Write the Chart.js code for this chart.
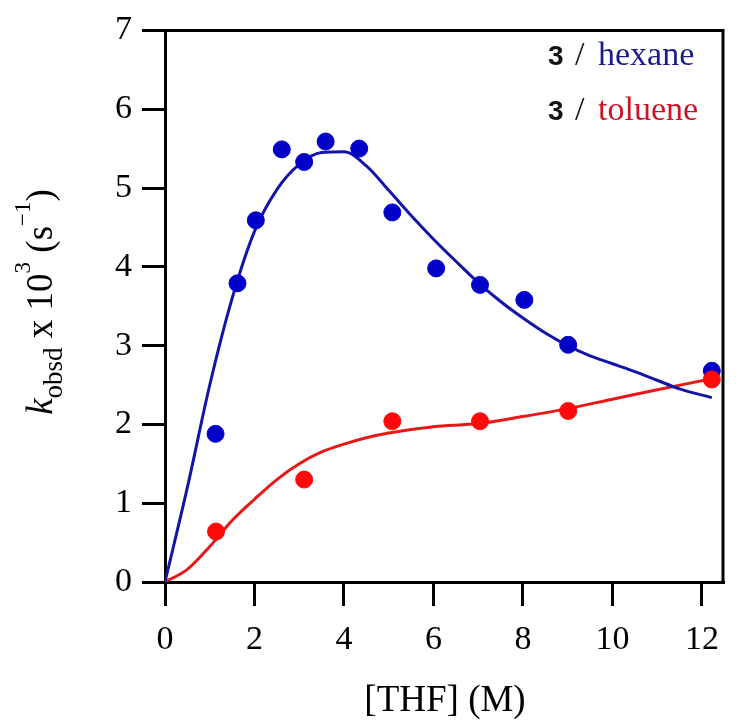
<!DOCTYPE html>
<html>
<head>
<meta charset="utf-8">
<script src="https://cdn.jsdelivr.net/npm/chart.js@4.4.0/dist/chart.umd.min.js"></script>
<style>
	body { margin: 0; background: #fff; }
</style>
</head>
<body>
<canvas id="kobsdChart" width="745" height="728"></canvas>
<script>
// measured points, 3 / hexane
var hexaneThf = [1.13, 1.62, 2.03, 2.61, 3.11, 3.59, 4.34, 5.08, 6.06, 7.04, 8.03, 9.01, 12.22];
var hexaneK = [1.88, 3.79, 4.59, 5.49, 5.33, 5.59, 5.50, 4.69, 3.98, 3.77, 3.58, 3.01, 2.68];

// measured points, 3 / toluene
var tolueneThf = [1.14, 3.11, 5.08, 7.04, 9.01, 12.22];
var tolueneK = [0.64, 1.30, 2.04, 2.04, 2.17, 2.57];

// fitted curves
var hexaneFitThf = [0, 0.5, 1, 1.5, 2, 2.5, 3, 3.5, 4, 4.5, 5, 5.5, 6, 6.5, 7, 7.5, 8, 8.5, 9, 9.5, 10, 10.5, 11, 11.5, 12.22];
var hexaneFitK = [0, 1.2, 2.5, 3.6, 4.45, 4.98, 5.3, 5.45, 5.46, 5.28, 4.97, 4.65, 4.35, 4.07, 3.8, 3.56, 3.35, 3.16, 3.0, 2.87, 2.77, 2.67, 2.56, 2.45, 2.34];
var tolueneFitThf = [0, 0.5, 1, 1.5, 2, 2.5, 3, 3.5, 4, 4.5, 5, 6, 7, 8, 9, 10, 11, 12.22];
var tolueneFitK = [0, 0.16, 0.45, 0.78, 1.05, 1.3, 1.5, 1.65, 1.75, 1.83, 1.89, 1.97, 2.01, 2.1, 2.2, 2.32, 2.44, 2.58];

var xTicks = [0, 2, 4, 6, 8, 10, 12];
var yTicks = [0, 1, 2, 3, 4, 5, 6, 7];

var serif = '"Liberation Serif", "Times New Roman", serif';

function toXY(xs, ys) {
	var pts = [];
	for (var i = 0; i < xs.length; i++) {
		pts.push({ x: xs[i], y: ys[i] });
	}
	return pts;
}

// frame, axis titles and the little legend in the corner
var decorations = {
	id: 'decorations',
	afterDraw: function (chart) {
		var ctx = chart.ctx;
		var a = chart.chartArea;
		ctx.save();

		ctx.strokeStyle = '#000';
		ctx.lineWidth = 3;
		ctx.beginPath();
		ctx.moveTo(a.left - 1.5, a.top);
		ctx.lineTo(a.right, a.top);
		ctx.lineTo(a.right, a.bottom + 1.5);
		ctx.stroke();

		// x title
		ctx.fillStyle = '#000';
		ctx.font = '37px ' + serif;
		ctx.textAlign = 'center';
		ctx.textBaseline = 'alphabetic';
		ctx.fillText('[THF] (M)', 445, 711);

		// y title with sub/superscripts
		var parts = [
			{ t: 'k', f: 'italic 37px ' + serif, dy: 0 },
			{ t: 'obsd', f: '27px ' + serif, dy: 10 },
			{ t: ' x 10', f: '37px ' + serif, dy: 0 },
			{ t: '3', f: '23px ' + serif, dy: -22 },
			{ t: ' (s', f: '37px ' + serif, dy: 0 },
			{ t: '\u22121', f: '23px ' + serif, dy: -22 },
			{ t: ')', f: '37px ' + serif, dy: 0 }
		];
		var total = 0;
		parts.forEach(p => {
			ctx.font = p.f;
			p.w = ctx.measureText(p.t).width;
			total += p.w;
		});
		ctx.translate(52, 302);
		ctx.rotate(-Math.PI / 2);
		ctx.textAlign = 'left';
		var pos = -total / 2;
		parts.forEach(p => {
			ctx.font = p.f;
			ctx.fillText(p.t, pos, p.dy);
			pos += p.w;
		});
		ctx.setTransform(1, 0, 0, 1, 0, 0);

		// legend text
		var rows = [
			{ word: 'hexane', color: '#1c1c8e', y: 65 },
			{ word: 'toluene', color: '#cc1426', y: 120 }
		];
		rows.forEach(r => {
			ctx.fillStyle = '#111';
			ctx.font = 'bold 28px "Liberation Sans", sans-serif';
			ctx.fillText('3', 548, r.y);
			ctx.font = '34px ' + serif;
			ctx.fillText('/', 575, r.y);
			ctx.fillStyle = r.color;
			ctx.fillText(r.word, 598, r.y);
		});
		ctx.restore();
	}
};

var config = {
	type: 'scatter',
	data: {
		datasets: [
			{
				label: 'toluene',
				data: toXY(tolueneThf, tolueneK),
				backgroundColor: '#ff0a0a',
				borderColor: '#ff0a0a',
				pointRadius: 8.5,
				order: 0
			},
			{
				label: 'hexane',
				data: toXY(hexaneThf, hexaneK),
				backgroundColor: '#0000c8',
				borderColor: '#0000c8',
				pointRadius: 8.5,
				order: 1
			},
			{
				type: 'line',
				label: 'hexane fit',
				data: toXY(hexaneFitThf, hexaneFitK),
				borderColor: '#1414a8',
				borderWidth: 3,
				pointRadius: 0,
				cubicInterpolationMode: 'monotone',
				fill: false,
				order: 2
			},
			{
				type: 'line',
				label: 'toluene fit',
				data: toXY(tolueneFitThf, tolueneFitK),
				borderColor: '#e81818',
				borderWidth: 3,
				pointRadius: 0,
				cubicInterpolationMode: 'monotone',
				fill: false,
				order: 2
			}
		]
	},
	options: {
		responsive: false,
		animation: false,
		devicePixelRatio: 1,
		layout: { padding: { left: 0, right: 22, top: 25, bottom: 0 } },
		plugins: {
			legend: { display: false },
			tooltip: { enabled: false }
		},
		scales: {
			x: {
				type: 'linear',
				min: 0,
				max: 12.47,
				border: { display: true, color: '#000', width: 3 },
				grid: { drawOnChartArea: false, drawTicks: true, tickLength: 24, color: '#000', lineWidth: 3 },
				ticks: { stepSize: 2, includeBounds: false, color: '#000', padding: 14, maxRotation: 0, font: { family: serif, size: 34 } },
				afterBuildTicks: function (scale) {
					scale.ticks = xTicks.map(v => ({ value: v }));
				},
				afterFit: function (scale) {
					scale.height = 146;
				}
			},
			y: {
				type: 'linear',
				min: 0,
				max: 7,
				border: { display: true, color: '#000', width: 3 },
				grid: { drawOnChartArea: false, drawTicks: true, tickLength: 23, color: '#000', lineWidth: 3 },
				ticks: { stepSize: 1, color: '#000', padding: 10, font: { family: serif, size: 34 } },
				afterBuildTicks: function (scale) {
					scale.ticks = yTicks.map(v => ({ value: v }));
				},
				afterFit: function (scale) {
					scale.width = 165;
				}
			}
		}
	},
	plugins: [decorations]
};

var kobsdChart = new Chart(document.getElementById('kobsdChart'), config);
</script>
</body>
</html>
